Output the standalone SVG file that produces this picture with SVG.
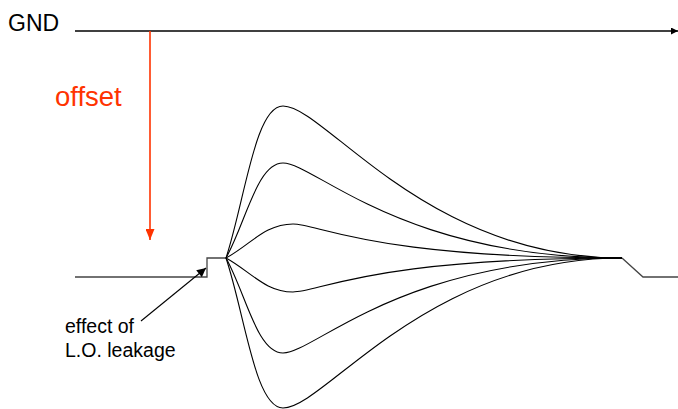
<svg xmlns="http://www.w3.org/2000/svg" width="678" height="409" viewBox="0 0 678 409">
<defs>
<style>
.t{font-family:"Liberation Sans",Arial,sans-serif;fill:#000}
.c{fill:none;stroke:#000;stroke-width:1.1}
.b{fill:none;stroke:#444;stroke-width:1.3}
</style>
<marker id="ah" viewBox="0 0 10 10" refX="10" refY="5" markerWidth="7" markerHeight="7" markerUnits="userSpaceOnUse" orient="auto"><path d="M0,0L10,5L0,10z" fill="#000"/></marker>
<marker id="ar" viewBox="0 0 10 10" refX="10" refY="5" markerWidth="11" markerHeight="9" markerUnits="userSpaceOnUse" orient="auto" preserveAspectRatio="none"><path d="M0,0L10,5L0,10z" fill="#ff3300"/></marker>
<marker id="al" viewBox="0 0 10 10" refX="10" refY="5" markerWidth="11" markerHeight="9" markerUnits="userSpaceOnUse" orient="auto"><path d="M0,0L10,5L0,10z" fill="#000"/></marker>
</defs>
<rect width="678" height="409" fill="#fff"/>
<g id="gnd">
<text class="t" x="8" y="31" font-size="23">GND</text>
<line x1="75" y1="31" x2="678" y2="31" stroke="#000" stroke-width="1.3" marker-end="url(#ah)"/>
</g>
<g id="offset">
<text x="55" y="106" font-size="27.5" font-family="Liberation Sans,Arial,sans-serif" fill="#ff3300">offset</text>
<line x1="150" y1="31" x2="150" y2="240" stroke="#ff3300" stroke-width="1.6" marker-end="url(#ar)"/>
</g>
<g id="baseline">
<path class="b" d="M75,277H207V258H227"/>
<path class="b" d="M622,258L643,277H678"/>
</g>
<g id="curves">
<path class="c" d="M226,258C245,200 255,106 283,106C325,106 425,258 622,258"/>
<path class="c" d="M226,258C246,222 257,163 283,163C315,163 400,258 622,258"/>
<path class="c" d="M226,258C250,245 265,224 293,224C320,224 370,258 622,258"/>
<path class="c" d="M226,258C250,271 265,292 293,292C320,292 370,258 622,258"/>
<path class="c" d="M226,258C246,294 257,353 283,353C315,353 400,258 622,258"/>
<path class="c" d="M226,258C245,315 255,408 283,408C325,408 425,258 622,258"/>
</g>
<g id="leakage">
<text class="t" x="65" y="333" font-size="19.5">effect of</text>
<text class="t" x="65" y="357" font-size="19.5">L.O. leakage</text>
<line x1="141" y1="321" x2="206" y2="268" stroke="#000" stroke-width="1.1" marker-end="url(#al)"/>
</g>
</svg>
